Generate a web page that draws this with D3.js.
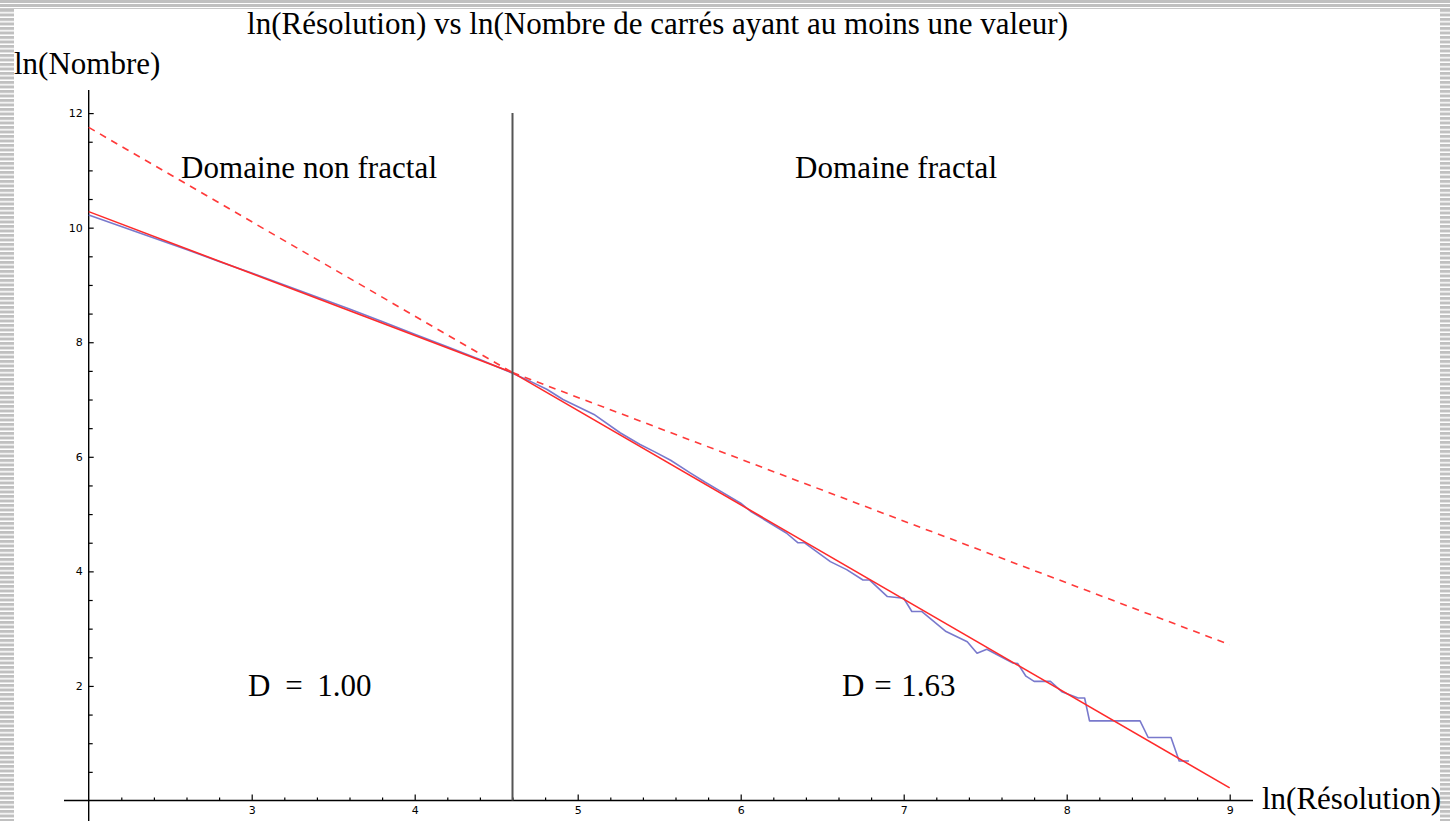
<!DOCTYPE html>
<html>
<head>
<meta charset="utf-8">
<script src="https://cdn.jsdelivr.net/npm/d3@7"></script>
<style>
  html, body { margin: 0; padding: 0; background: #fff; }
  svg { display: block; }
</style>
</head>
<body>
<svg id="chart" width="1450" height="821"></svg>
<script>
// ---------- DATA ----------
const xMajorTicks = [3, 4, 5, 6, 7, 8, 9];
const yMajorTicks = [2, 4, 6, 8, 10, 12];

// measured curve: ln(Résolution) vs ln(Nombre)
const lnResolution = [2.00, 2.20, 2.40, 2.60, 2.80, 3.00, 3.20, 3.40, 3.60, 3.80, 4.00, 4.20, 4.40, 4.60,
  4.70, 4.81, 4.91, 5.10, 5.26, 5.38, 5.47, 5.57, 5.69, 5.78, 5.87, 6.00, 6.06, 6.28, 6.35, 6.39,
  6.55, 6.65, 6.75, 6.79, 6.90, 7.00, 7.05, 7.11, 7.26, 7.39, 7.45, 7.51, 7.67, 7.70, 7.75, 7.80,
  7.90, 7.97, 8.07, 8.11, 8.14, 8.45, 8.50, 8.64, 8.69, 8.75];
const lnNombre = [10.22, 10.02, 9.82, 9.62, 9.41, 9.21, 9.00, 8.79, 8.58, 8.36, 8.14, 7.92, 7.70, 7.46,
  7.33, 7.18, 7.00, 6.74, 6.42, 6.22, 6.09, 5.94, 5.72, 5.56, 5.41, 5.19, 5.05, 4.67, 4.50, 4.50,
  4.17, 4.03, 3.85, 3.85, 3.56, 3.53, 3.30, 3.30, 2.95, 2.77, 2.57, 2.64, 2.40, 2.39, 2.17, 2.08,
  2.08, 1.90, 1.79, 1.79, 1.39, 1.39, 1.10, 1.10, 0.69, 0.69];

// fitted lines (x, y) : solid part and dashed extrapolation
const breakX = 4.6;
const fitNonFractalSolid = [[2, 10.28], [4.6, 7.47]];
const fitNonFractalDashed = [[4.6, 7.47], [9, 2.72]];
const fitFractalSolid = [[4.6, 7.47], [9, 0.22]];
const fitFractalDashed = [[2, 11.75], [4.6, 7.47]];

const titleText = "ln(Résolution) vs ln(Nombre de carrés ayant au moins une valeur)";
const yAxisTitle = "ln(Nombre)";
const xAxisTitle = "ln(Résolution)";
const domainLabels = ["Domaine non fractal", "Domaine fractal"];
const dimensionLabels = ["D = 1.00", "D = 1.63"];

// ---------- DRAW ----------
const svg = d3.select("#chart");
const W = 1450, H = 821;

const x = d3.scaleLinear().domain([2, 9]).range([88.7, 1229.7]);
const y = d3.scaleLinear().domain([0, 12]).range([800.5, 113.1]);

// background
svg.append("rect").attr("width", W).attr("height", H).attr("fill", "#fff");

// striped frame
const defs = svg.append("defs");
const pat = defs.append("pattern").attr("id", "stripes")
  .attr("patternUnits", "userSpaceOnUse").attr("x", 0).attr("y", 9)
  .attr("width", 40).attr("height", 4.5);
pat.append("rect").attr("width", 40).attr("height", 4.5).attr("fill", "#fff");
pat.append("rect").attr("width", 40).attr("height", 3).attr("fill", "#c0c0c0");

svg.append("rect").attr("x", 0).attr("y", 9).attr("width", 14).attr("height", H - 9).attr("fill", "url(#stripes)");
svg.append("rect").attr("x", 1440).attr("y", 9).attr("width", 10).attr("height", H - 9).attr("fill", "url(#stripes)");
svg.append("rect").attr("x", 0).attr("y", 0).attr("width", W).attr("height", 3).attr("fill", "#c0c0c0");
svg.append("rect").attr("x", 0).attr("y", 4).attr("width", W).attr("height", 3).attr("fill", "#c0c0c0");
svg.append("rect").attr("x", 0).attr("y", 8).attr("width", W).attr("height", 1).attr("fill", "#c8c8c8");

// axes lines
const axisG = svg.append("g");
axisG.append("line").attr("x1", x(2)).attr("x2", x(2)).attr("y1", 90).attr("y2", H)
  .attr("stroke", "#000").attr("stroke-width", 1.4);
axisG.append("line").attr("x1", 64).attr("x2", 1253).attr("y1", y(0)).attr("y2", y(0))
  .attr("stroke", "#000").attr("stroke-width", 1.4);

// y axis ticks
const yMinor = d3.range(1, 25).map(d => d * 0.5).filter(v => !yMajorTicks.includes(v));
const yAxisMajor = d3.axisLeft(y).tickValues(yMajorTicks).tickSize(-5).tickPadding(6)
  .tickFormat(d3.format("d"));
const yAxisMinor = d3.axisLeft(y).tickValues(yMinor).tickSize(-4).tickFormat("");
const gy1 = svg.append("g").attr("transform", `translate(${x(2)},0)`).call(yAxisMajor);
const gy2 = svg.append("g").attr("transform", `translate(${x(2)},0)`).call(yAxisMinor);

// x axis ticks
const xMinor = d3.range(11, 46).map(d => +(d * 0.2).toFixed(1)).filter(v => !xMajorTicks.includes(v) && v <= 9);
const xAxisMajor = d3.axisBottom(x).tickValues(xMajorTicks).tickSize(-6).tickPadding(6)
  .tickFormat(d3.format("d"));
const xAxisMinor = d3.axisBottom(x).tickValues(xMinor).tickSize(-3).tickFormat("");
const gx1 = svg.append("g").attr("transform", `translate(0,${y(0)})`).call(xAxisMajor);
const gx2 = svg.append("g").attr("transform", `translate(0,${y(0)})`).call(xAxisMinor);

[gy1, gy2, gx1, gx2].forEach(g => {
  g.select(".domain").remove();
  g.selectAll(".tick line").attr("stroke", "#000").attr("stroke-width", 1.2);
  g.selectAll(".tick text").attr("font-family", "'DejaVu Sans', Arial, sans-serif")
    .attr("font-size", 11).attr("fill", "#000");
});

// measured curve
const line = d3.line().x(d => x(d[0])).y(d => y(d[1]));
const curve = lnResolution.map((v, i) => [v, lnNombre[i]]);
svg.append("path").datum(curve).attr("d", line)
  .attr("fill", "none").attr("stroke", "#6a6ac6").attr("stroke-width", 1.6)
  .attr("stroke-linejoin", "round").attr("opacity", 0.9);

// fitted lines
[fitNonFractalSolid, fitFractalSolid].forEach(seg => {
  svg.append("path").datum(seg).attr("d", line)
    .attr("fill", "none").attr("stroke", "#ff2a2a").attr("stroke-width", 1.6);
});
[fitNonFractalDashed, fitFractalDashed].forEach(seg => {
  svg.append("path").datum(seg).attr("d", line)
    .attr("fill", "none").attr("stroke", "#ff3a3a").attr("stroke-width", 1.6)
    .attr("stroke-dasharray", "7,6");
});

// separation line
svg.append("line").attr("x1", x(breakX)).attr("x2", x(breakX))
  .attr("y1", y(12)).attr("y2", y(0))
  .attr("stroke", "#555").attr("stroke-width", 2);

// texts
const serif = "'Liberation Serif', 'Times New Roman', serif";
function txt(s, tx, ty, size, len, ws) {
  const t = svg.append("text").attr("x", tx).attr("y", ty)
    .attr("font-family", serif).attr("font-size", size).attr("fill", "#000").text(s);
  if (len) t.attr("textLength", len).attr("lengthAdjust", "spacing");
  if (ws) t.attr("word-spacing", ws);
  return t;
}
txt(titleText, 247, 34, 31, 821);
txt(yAxisTitle, 14, 74, 31);
txt(xAxisTitle, 1262, 809, 31);
txt(domainLabels[0], 181, 178, 31, 256);
txt(domainLabels[1], 795, 178, 31, 202);
txt(dimensionLabels[0], 248, 696, 31, null, 7);
txt(dimensionLabels[1], 842, 696, 31, null, 2);
</script>
</body>
</html>
